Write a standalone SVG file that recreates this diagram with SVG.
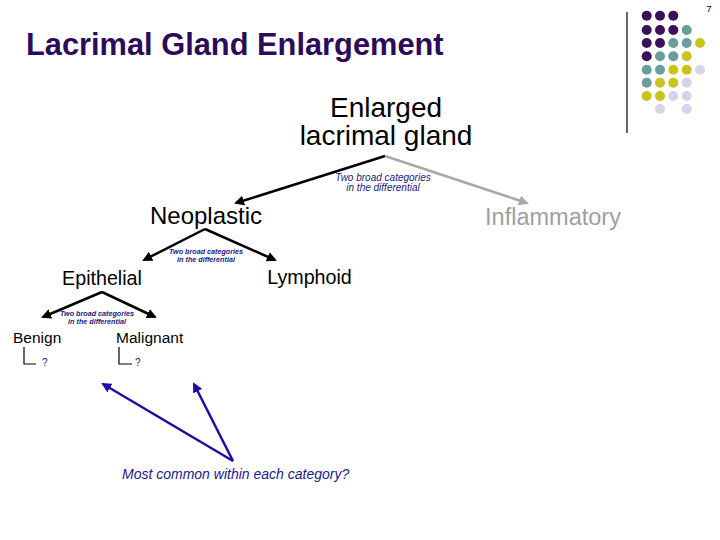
<svg xmlns="http://www.w3.org/2000/svg" width="720" height="540" viewBox="0 0 720 540">
<defs>
<style>
text{font-family:"Liberation Sans",Arial,sans-serif}
.node{fill:#000}
.note{fill:#1a1a80;font-style:italic;text-anchor:middle}
.dot-p{fill:#3b0f5c}.dot-t{fill:#6b9c9e}.dot-y{fill:#c9c31a}.dot-l{fill:#d5d5ea}
.blk{stroke:#000;stroke-width:2.5;fill:none}
.gry{stroke:#a8a8a8;stroke-width:2.5;fill:none}
.blu{stroke:#1a10a0;stroke-width:2.5;fill:none}
</style>
<marker id="ab" viewBox="0 0 10 10" refX="8" refY="5" markerWidth="4" markerHeight="4" orient="auto"><path d="M0,0 L10,5 L0,10 z" fill="#000"/></marker>
<marker id="ag" viewBox="0 0 10 10" refX="8" refY="5" markerWidth="4" markerHeight="4" orient="auto"><path d="M0,0 L10,5 L0,10 z" fill="#a8a8a8"/></marker>
<marker id="au" viewBox="0 0 10 10" refX="8" refY="5" markerWidth="4" markerHeight="4" orient="auto"><path d="M0,0 L10,5 L0,10 z" fill="#1a10a0"/></marker>
</defs>
<rect width="720" height="540" fill="#fff"/>

<g id="decoration">
<line x1="627" y1="12" x2="627" y2="133" stroke="#000" stroke-width="1.2"/>
<text x="709" y="12" font-size="9" text-anchor="middle">7</text>
<circle class="dot-p" cx="646.7" cy="15.7" r="5"/><circle class="dot-p" cx="660" cy="15.7" r="5"/><circle class="dot-p" cx="673.3" cy="15.7" r="5"/>
<circle class="dot-p" cx="646.7" cy="30" r="5"/><circle class="dot-p" cx="660" cy="30" r="5"/><circle class="dot-p" cx="673.3" cy="30" r="5"/><circle class="dot-t" cx="686.7" cy="30" r="5"/>
<circle class="dot-p" cx="646.7" cy="43" r="5"/><circle class="dot-p" cx="660" cy="43" r="5"/><circle class="dot-t" cx="673.3" cy="43" r="5"/><circle class="dot-t" cx="686.7" cy="43" r="5"/><circle class="dot-y" cx="700" cy="43" r="5"/>
<circle class="dot-p" cx="646.7" cy="56.3" r="5"/><circle class="dot-t" cx="660" cy="56.3" r="5"/><circle class="dot-t" cx="673.3" cy="56.3" r="5"/><circle class="dot-y" cx="686.7" cy="56.3" r="5"/>
<circle class="dot-t" cx="646.7" cy="69.7" r="5"/><circle class="dot-t" cx="660" cy="69.7" r="5"/><circle class="dot-y" cx="673.3" cy="69.7" r="5"/><circle class="dot-y" cx="686.7" cy="69.7" r="5"/><circle class="dot-l" cx="700" cy="69.7" r="5"/>
<circle class="dot-t" cx="646.7" cy="82.7" r="5"/><circle class="dot-y" cx="660" cy="82.7" r="5"/><circle class="dot-y" cx="673.3" cy="82.7" r="5"/><circle class="dot-l" cx="686.7" cy="82.7" r="5"/>
<circle class="dot-y" cx="646.7" cy="96" r="5"/><circle class="dot-y" cx="660" cy="96" r="5"/><circle class="dot-l" cx="673.3" cy="96" r="5"/><circle class="dot-l" cx="686.7" cy="96" r="5"/>
<circle class="dot-l" cx="660" cy="109" r="5"/><circle class="dot-l" cx="686.7" cy="109" r="5"/>
</g>

<g id="title">
<text x="26" y="55" font-size="30.8" font-weight="bold" fill="#2d0a5a">Lacrimal Gland Enlargement</text>
</g>

<g id="connectors">
<line class="blk" x1="385" y1="156" x2="236" y2="203" marker-end="url(#ab)"/>
<line class="gry" x1="385" y1="156" x2="527" y2="203" marker-end="url(#ag)"/>
<line class="blk" x1="205" y1="229" x2="144" y2="260" marker-end="url(#ab)"/>
<line class="blk" x1="205" y1="229" x2="275" y2="260" marker-end="url(#ab)"/>
<line class="blk" x1="102" y1="292" x2="43" y2="317" marker-end="url(#ab)"/>
<line class="blk" x1="102" y1="292" x2="155" y2="317" marker-end="url(#ab)"/>
<path d="M24,347 V364 H36" stroke="#000" stroke-width="1.2" fill="none"/>
<path d="M119,347 V364 H132" stroke="#000" stroke-width="1.2" fill="none"/>
<line class="blu" x1="233" y1="461" x2="103" y2="384" marker-end="url(#au)"/>
<line class="blu" x1="233" y1="461" x2="194" y2="384" marker-end="url(#au)"/>
</g>

<g id="labels">
<text class="note" x="383" y="181" font-size="10">Two broad categories</text>
<text class="note" x="383" y="191" font-size="10">in the differential</text>
<text class="note" x="206" y="254" font-size="7.2" font-weight="bold">Two broad categories</text>
<text class="note" x="206" y="262" font-size="7.2" font-weight="bold">in the differential</text>
<text class="note" x="97" y="316" font-size="7.2" font-weight="bold">Two broad categories</text>
<text class="note" x="97" y="324" font-size="7.2" font-weight="bold">in the differential</text>
</g>

<g id="node-enlarged">
<text x="386" y="117" font-size="28" text-anchor="middle">Enlarged</text>
<text x="386" y="145" font-size="28" text-anchor="middle">lacrimal gland</text>
</g>
<g id="node-neoplastic"><text x="206" y="224" font-size="24" text-anchor="middle">Neoplastic</text></g>
<g id="node-inflammatory"><text x="553" y="225" font-size="23.5" text-anchor="middle" fill="#a0a0a0">Inflammatory</text></g>
<g id="node-epithelial"><text x="102" y="285" font-size="19.7" text-anchor="middle">Epithelial</text></g>
<g id="node-lymphoid"><text x="309.5" y="284" font-size="19.7" text-anchor="middle">Lymphoid</text></g>
<g id="node-benign"><text x="13" y="343" font-size="15.5">Benign</text><text x="42" y="366" font-size="10" fill="#1a1a80">?</text></g>
<g id="node-malignant"><text x="116" y="343" font-size="15.5">Malignant</text><text x="135" y="366" font-size="10" fill="#1a1a80">?</text></g>
<g id="node-question"><text x="122" y="479" font-size="14" font-style="italic" fill="#1a1a8c">Most common within each category?</text></g>
</svg>
